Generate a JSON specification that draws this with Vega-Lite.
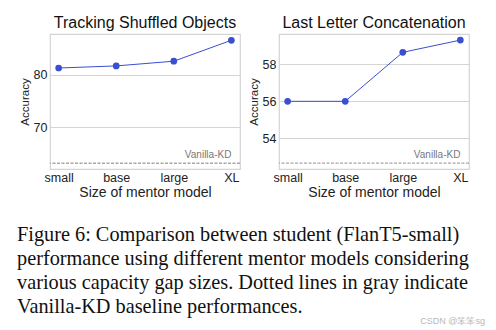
{
  "$schema": "https://vega.github.io/schema/vega-lite/v6.json",
  "padding": {"left": 17, "top": 14, "right": 5, "bottom": 5},
  "background": "white",
  "datasets": {
    "tso": [
      {"size": "small", "acc": 81.3},
      {"size": "base", "acc": 81.7},
      {"size": "large", "acc": 82.6},
      {"size": "XL", "acc": 86.6}
    ],
    "llc": [
      {"size": "small", "acc": 56.0},
      {"size": "base", "acc": 56.0},
      {"size": "large", "acc": 58.65},
      {"size": "XL", "acc": 59.31}
    ],
    "base_tso": [{"acc": 63.1, "label": "Vanilla-KD", "size": "XL"}],
    "base_llc": [{"acc": 52.66, "label": "Vanilla-KD", "size": "XL"}],
    "wm": [{"t": "CSDN @笨笨sg", "pos": 1}]
  },
  "config": {
    "font": "Liberation Sans",
    "view": {"stroke": "#d4d4d4", "strokeWidth": 1.2},
    "axis": {
      "gridColor": "#d4d4d4",
      "gridWidth": 1.2,
      "domain": false,
      "ticks": false,
      "labelFont": "Liberation Sans",
      "titleFont": "Liberation Sans",
      "labelColor": "#222",
      "titleColor": "#222",
      "titleFontWeight": "normal"
    },
    "title": {"font": "Liberation Sans", "fontWeight": "normal", "color": "#111"}
  },
  "vconcat": [
    {
      "hconcat": [
        {
          "title": {"text": "Tracking Shuffled Objects", "fontSize": 16, "offset": 3},
          "width": 190,
          "height": 135,
          "encoding": {
            "x": {"field": "size", "type": "ordinal", "sort": ["small", "base", "large", "XL"],
                  "scale": {"type": "point", "padding": 0.15},
                  "axis": {"title": "Size of mentor model", "labelAngle": 0, "labelFontSize": 12.5, "titleFontSize": 14, "labelPadding": 2, "titlePadding": 2}},
            "y": {"field": "acc", "type": "quantitative",
                  "scale": {"domain": [62.0, 87.8], "nice": false, "zero": false},
                  "axis": {"title": "Accuracy", "values": [70, 80], "labelFontSize": 12.5, "titleFontSize": 11.5, "labelPadding": 3, "titlePadding": 3}}
          },
          "layer": [
            {
              "data": {"name": "base_tso"},
              "mark": {"type": "rule", "color": "#a8a8a8", "strokeDash": [3, 1.5], "strokeWidth": 1.3},
              "encoding": {"x": null}
            },
            {
              "data": {"name": "base_tso"},
              "mark": {"type": "text", "align": "right", "baseline": "bottom", "fontSize": 10, "color": "#777", "dy": -3},
              "encoding": {"text": {"field": "label"}}
            },
            {
              "data": {"name": "tso"},
              "mark": {"type": "line", "color": "#3a4ed0", "strokeWidth": 1, "point": {"filled": true, "size": 45, "color": "#3a4ed0", "opacity": 1}}
            }
          ]
        },
        {
          "title": {"text": "Last Letter Concatenation", "fontSize": 16, "offset": 3},
          "width": 190,
          "height": 135,
          "encoding": {
            "x": {"field": "size", "type": "ordinal", "sort": ["small", "base", "large", "XL"],
                  "scale": {"type": "point", "padding": 0.15},
                  "axis": {"title": "Size of mentor model", "labelAngle": 0, "labelFontSize": 12.5, "titleFontSize": 14, "labelPadding": 2, "titlePadding": 2}},
            "y": {"field": "acc", "type": "quantitative",
                  "scale": {"domain": [52.34, 59.64], "nice": false, "zero": false},
                  "axis": {"title": "Accuracy", "values": [54, 56, 58], "labelFontSize": 12.5, "titleFontSize": 11.5, "labelPadding": 3, "titlePadding": 3}}
          },
          "layer": [
            {
              "data": {"name": "base_llc"},
              "mark": {"type": "rule", "color": "#a8a8a8", "strokeDash": [3, 1.5], "strokeWidth": 1.3},
              "encoding": {"x": null}
            },
            {
              "data": {"name": "base_llc"},
              "mark": {"type": "text", "align": "right", "baseline": "bottom", "fontSize": 10, "color": "#777", "dy": -3},
              "encoding": {"text": {"field": "label"}}
            },
            {
              "data": {"name": "llc"},
              "mark": {"type": "line", "color": "#3a4ed0", "strokeWidth": 1, "point": {"filled": true, "size": 45, "color": "#3a4ed0", "opacity": 1}}
            }
          ]
        }
      ],
      "spacing": 5
    },
    {
      "width": 435,
      "height": 6,
      "view": {"stroke": null},
      "title": {
        "text": [
          "Figure 6: Comparison between student (FlanT5-small)",
          "performance using different mentor models considering",
          "various capacity gap sizes. Dotted lines in gray indicate",
          "Vanilla-KD baseline performances."
        ],
        "font": "Liberation Serif",
        "fontSize": 20.3,
        "lineHeight": 24,
        "anchor": "start",
        "dx": -33,
        "color": "#111",
        "offset": 0
      },
      "data": {"name": "wm"},
      "mark": {"type": "text", "align": "right", "baseline": "middle", "fontSize": 9, "color": "#b8b8b8"},
      "encoding": {
        "text": {"field": "t"},
        "x": {"field": "pos", "type": "quantitative", "scale": {"domain": [0, 1]}, "axis": null}
      }
    }
  ],
  "spacing": 23
}
